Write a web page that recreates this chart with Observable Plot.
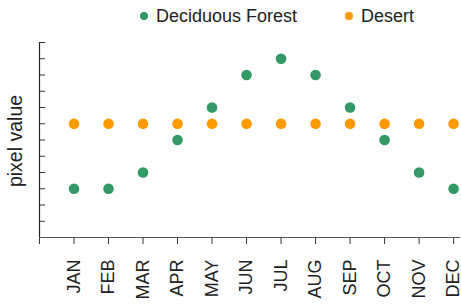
<!DOCTYPE html>
<html>
<head>
<meta charset="utf-8">
<script src="https://cdn.jsdelivr.net/npm/d3@7"></script>
<script src="https://cdn.jsdelivr.net/npm/@observablehq/plot@0.6"></script>
<style>
  body { margin: 0; background: #fff; font-family: "Liberation Sans", Arial, sans-serif; }
  #legend { height: 34px; display: flex; align-items: flex-start; padding-left: 140px; box-sizing: border-box; gap: 48px; }
  .item { display: flex; align-items: flex-start; font-size: 18px; color: #222; }
  .sw { width: 8px; height: 8px; border-radius: 50%; margin-top: 12px; margin-right: 8px; }
  .lbl { margin-top: 5px; line-height: 22px; }
</style>
</head>
<body>
<div id="legend"></div>
<div id="chart"></div>
<script>
const months = ["JAN","FEB","MAR","APR","MAY","JUN","JUL","AUG","SEP","OCT","NOV","DEC"];
const seriesNames = ["Deciduous Forest", "Desert"];
const seriesColors = ["#339966", "#ff9900"];
const forest = [3, 3, 4, 6, 8, 10, 11, 10, 8, 6, 4, 3];
const desert = [7, 7, 7, 7, 7, 7, 7, 7, 7, 7, 7, 7];
const yLabel = "pixel value";

const data = [];
months.forEach((m, i) => {
  data.push({month: i + 1, value: forest[i], series: seriesNames[0]});
  data.push({month: i + 1, value: desert[i], series: seriesNames[1]});
});

const legend = document.getElementById("legend");
seriesNames.forEach((n, i) => {
  const it = document.createElement("div");
  it.className = "item";
  it.innerHTML = `<span class="sw" style="background:${seriesColors[i]}"></span><span class="lbl">${n}</span>`;
  legend.appendChild(it);
});

const chart = Plot.plot({
  width: 461,
  height: 272,
  marginLeft: 39,
  marginRight: 1,
  marginTop: 8,
  marginBottom: 69,
  style: {fontFamily: "Liberation Sans, Arial, sans-serif", fontSize: "18px", color: "#222"},
  x: {domain: [0, 12.2]},
  y: {domain: [0, 12]},
  color: {domain: seriesNames, range: seriesColors},
  marks: [
    Plot.axisX({
      ticks: d3.range(0, 13),
      tickFormat: d => d === 0 ? "" : months[d - 1],
      tickSize: 7,
      tickPadding: 15,
      tickRotate: -90,
      label: null,
      stroke: "#333"
    }),
    Plot.axisY({
      ticks: d3.range(0, 13),
      tickSize: -6,
      tickFormat: () => "",
      label: null,
      stroke: "#333"
    }),
    Plot.ruleX([0], {stroke: "#222", strokeWidth: 1.2}),
    Plot.ruleY([0], {stroke: "#555"}),
    Plot.text([yLabel], {frameAnchor: "left", dx: -24, dy: 1, rotate: -90, textAnchor: "middle", lineAnchor: "middle", fontSize: 19.5, fill: "#222"}),
    Plot.dot(data, {x: "month", y: "value", fill: "series", r: 5.3, stroke: "none"})
  ]
});
document.getElementById("chart").appendChild(chart);
</script>
</body>
</html>
